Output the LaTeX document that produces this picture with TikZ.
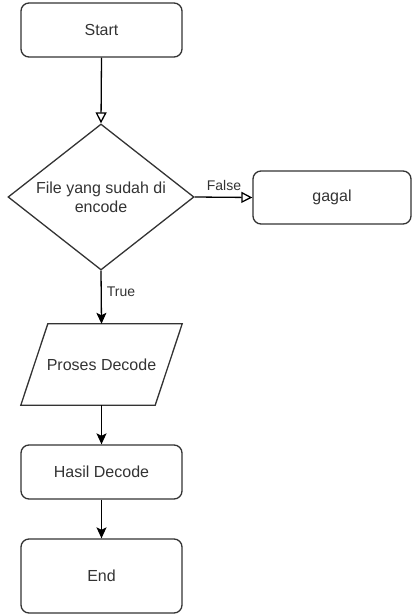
\documentclass[tikz,border=0pt]{standalone}
\usepackage{fontspec}
\setmainfont{Liberation Sans}
\usetikzlibrary{shapes.geometric,arrows.meta}
\definecolor{txt}{HTML}{333333}
\tikzset{
  shapeline/.style={draw=black!80, line width=1.3pt},
  box/.style={shapeline, rounded corners=8pt, minimum width=161pt, inner sep=0pt, text=txt, font=\fontsize{16}{19}\selectfont},
  decision/.style={shapeline, shape=diamond, aspect=1.27, minimum width=186pt, minimum height=146pt, inner sep=0pt, text=txt, align=center, font=\fontsize{16}{19}\selectfont},
  iotext/.style={minimum width=134pt, minimum height=81pt, inner sep=0pt, text=txt, font=\fontsize{16}{19}\selectfont},
  flow/.style={line width=1.3pt, draw=black, -{Stealth[length=11pt, width=10pt, inset=2.5pt]}},
  openflow/.style={line width=1.3pt, draw=black, -{Triangle[open, length=11pt, width=11pt]}},
  lbl/.style={text=txt, font=\fontsize{14}{16}\selectfont, inner sep=0pt}
}
\begin{document}
\begin{tikzpicture}[x=1pt,y=-1pt]
\useasboundingbox (0,0) rectangle (412,615);
\node[box, minimum height=54pt] (start) at (101.5,30) {Start};
\node[decision] (dec) at (101,197) {File yang sudah di\\encode};
\node[box, minimum width=158pt, minimum height=53pt] (gagal) at (332,197.5) {gagal};
\node[iotext] (proses) at (101.5,364.5) {Proses Decode};
\draw[shapeline] ([xshift=13.5pt]proses.north west) -- ([xshift=13.5pt]proses.north east)
  -- ([xshift=-13.5pt]proses.south east) -- ([xshift=-13.5pt]proses.south west) -- cycle;
\node[box, minimum height=54pt] (hasil) at (101.5,472) {Hasil Decode};
\node[box, minimum height=74pt] (end) at (101.5,576) {End};
\draw[openflow] (start.south) -- (dec.north);
\draw[openflow] (dec.east) -- (gagal.west);
\node[lbl] (lfalse) at (224,185) {False};
\draw[flow] (dec.south) -- (proses.north);
\node[lbl] (ltrue) at (121,292) {True};
\draw[flow] (proses.south) -- (hasil.north);
\draw[flow] (hasil.south) -- (end.north);
\end{tikzpicture}
\end{document}
